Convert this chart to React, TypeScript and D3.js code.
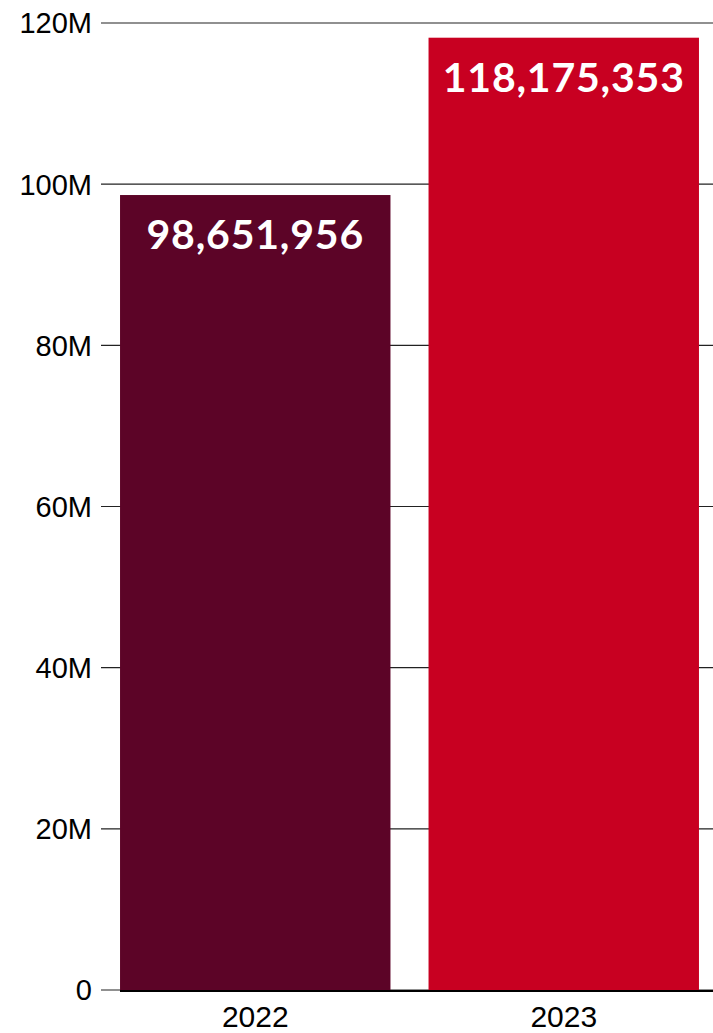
import React from "react";
import * as d3 from "d3";

const years = ["2022", "2023"];
const values = [98651956, 118175353];
const barColors = ["#5c0427", "#c80021"];
const yTicks = [0, 20e6, 40e6, 60e6, 80e6, 100e6, 120e6];
const yTickLabels = ["0", "20M", "40M", "60M", "80M", "100M", "120M"];

const W = 713;
const H = 1033;

export default function App() {
  const y = d3.scaleLinear().domain([0, 120e6]).range([990, 23]);
  const x = d3
    .scaleBand<string>()
    .domain(years)
    .range([101, 718])
    .paddingInner(0.1234)
    .paddingOuter(0.0617);
  const fmt = d3.format(",");
  return (
    <svg
      width={W}
      height={H}
      style={{ position: "absolute", left: 0, top: 0, background: "#fff" }}
    >
      {yTicks.map((t, i) => (
        <g key={t}>
          <line x1={101} x2={W} y1={y(t)} y2={y(t)} stroke="#222" strokeWidth={1.2} />
          <text
            x={92}
            y={y(t)}
            dy="0.36em"
            textAnchor="end"
            fontFamily="'Liberation Sans', Arial, sans-serif"
            fontSize={29}
            fill="#000"
          >
            {yTickLabels[i]}
          </text>
        </g>
      ))}
      {years.map((yr, i) => (
        <g key={yr}>
          <rect
            x={x(yr)}
            y={y(values[i])}
            width={x.bandwidth()}
            height={y(0) - y(values[i])}
            fill={barColors[i]}
          />
          <text
            x={(x(yr) as number) + x.bandwidth() / 2}
            y={y(values[i]) + 54}
            textAnchor="middle"
            fontFamily="Lato, 'Open Sans', sans-serif"
            fontWeight={700}
            fontSize={41}
            letterSpacing={0.8}
            fill="#fff"
          >
            {fmt(values[i])}
          </text>
          <text
            x={(x(yr) as number) + x.bandwidth() / 2}
            y={1027}
            textAnchor="middle"
            fontFamily="'Liberation Sans', Arial, sans-serif"
            fontSize={30}
            fill="#000"
          >
            {yr}
          </text>
        </g>
      ))}
      <line x1={120} x2={W} y1={y(0) + 1} y2={y(0) + 1} stroke="#000" strokeWidth={2} />
    </svg>
  );
}
